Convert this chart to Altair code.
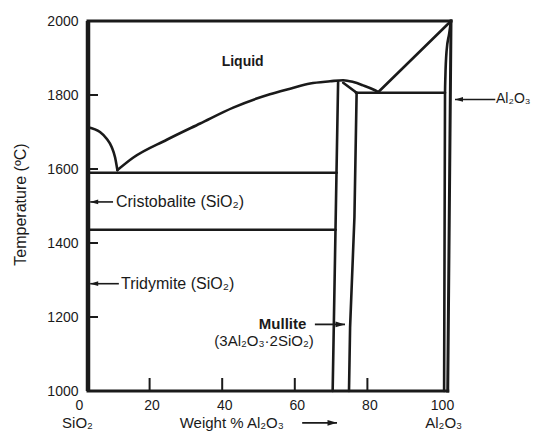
import altair as alt
import pandas as pd

FONT = "Liberation Sans"
INK = "#1a1a1a"

# ---------------- axis values ----------------
x_tick_labels = [0, 20, 40, 60, 80, 100]
y_tick_labels = [1000, 1200, 1400, 1600, 1800, 2000]
x_inner_ticks = [20, 40, 60, 80]
y_inner_ticks = [1200, 1400, 1600, 1800]

# ---------------- phase boundaries (wt% Al2O3, temperature °C) ----------------
# curved boundaries
liq_sio2_x = [0, 3.3, 5.15, 6.55, 7.45, 8.1]
liq_sio2_t = [1713, 1700, 1682, 1659, 1632, 1597]

liq_main_x = [8.1, 12.5, 21.7, 30.9, 40.0, 50.1, 55.7, 61.2, 66.7, 70.3, 73.1, 75.8, 78.6, 80.0]
liq_main_t = [1597, 1631, 1679, 1723, 1766, 1802, 1817, 1831, 1837, 1840, 1835, 1826, 1815, 1808]

alumina_liq_x = [100, 99.5, 98.8, 98.45, 98.35, 98.1]
alumina_liq_t = [2000, 1966, 1921, 1849, 1804, 1000]

# straight boundaries
alumina_liquidus_x = [80.0, 100]
alumina_liquidus_t = [1808, 2000]

cristobalite_line_x = [0, 68.5]
cristobalite_line_t = [1590, 1590]

tridymite_line_x = [0, 68.2]
tridymite_line_t = [1436, 1436]

mullite_left_x = [68.9, 67.4]
mullite_left_t = [1836, 1000]

mullite_top_x = [70.3, 74.0]
mullite_top_t = [1833, 1806]

mullite_right_x = [74.0, 73.4, 72.2, 71.9]
mullite_right_t = [1806, 1470, 1172, 1000]

alumina_eutectic_x = [73.8, 98.35]
alumina_eutectic_t = [1806, 1806]

# ---------------- frame of the diagram ----------------
left_frame_x = [0, 0]
left_frame_t = [1000, 2000]
top_frame_x = [0, 100]
top_frame_t = [2000, 2000]
right_frame_x = [100, 99.1]
right_frame_t = [2000, 1000]
bottom_frame_x = [0, 99.1]
bottom_frame_t = [1000, 1000]

# ---------------- annotations ----------------
left_labels = ["Cristobalite (SiO₂)", "Tridymite (SiO₂)"]
left_labels_x = [7.7, 9.1]
left_labels_t = [1511, 1290]

right_side_labels = ["Al₂O₃"]
right_side_labels_x = [112.4]
right_side_labels_t = [1788]

bold_labels = ["Liquid", "Mullite"]
bold_labels_x = [42.6, 53.6]
bold_labels_t = [1888, 1182]
bold_sizes = [14, 15]

center_labels = ["(3Al₂O₃·2SiO₂)", "SiO₂", "Weight % Al₂O₃", "Al₂O₃"]
center_labels_x = [48.5, -2.9, 39.6, 98.0]
center_labels_t = [1135, 914, 914, 914]

# arrows: start x, end x, temperature
arrow_left_x1 = [0.6, 0.6, 101.1]
arrow_left_x2 = [6.9, 8.5, 112.2]
arrow_left_t = [1511, 1290, 1788]

arrow_right_x1 = [62.5, 59.0]
arrow_right_x2 = [70.8, 68.6]
arrow_right_t = [1180, 914]


def segs(d):
    rows = []
    for name, (xs, ts) in d.items():
        for i, (x, t) in enumerate(zip(xs, ts)):
            rows.append({"seg": name, "i": i, "x": x, "t": t})
    return pd.DataFrame(rows)


curve_df = segs({
    "liq_sio2": (liq_sio2_x, liq_sio2_t),
    "liq_main": (liq_main_x, liq_main_t),
})
alumina_curve_df = segs({"alumina_liq": (alumina_liq_x, alumina_liq_t)})
straight_df = segs({
    "alumina_liquidus": (alumina_liquidus_x, alumina_liquidus_t),
    "cristobalite": (cristobalite_line_x, cristobalite_line_t),
    "tridymite": (tridymite_line_x, tridymite_line_t),
    "mullite_left": (mullite_left_x, mullite_left_t),
    "mullite_top": (mullite_top_x, mullite_top_t),
    "mullite_right": (mullite_right_x, mullite_right_t),
    "alumina_eut": (alumina_eutectic_x, alumina_eutectic_t),
})
frame_df = segs({
    "top": (top_frame_x, top_frame_t),
    "right": (right_frame_x, right_frame_t),
    "bottom": (bottom_frame_x, bottom_frame_t),
})
left_df = segs({"left": (left_frame_x, left_frame_t)})

xscale = alt.Scale(domain=[0, 100], nice=False, zero=False)
yscale = alt.Scale(domain=[1000, 2000], nice=False, zero=False)

x_axis = alt.Axis(values=x_tick_labels, format="d", domain=False, ticks=False, grid=False,
                  labelOffset=-9, labelPadding=7, labelFontSize=14, labelFont=FONT,
                  labelColor=INK, labelFlush=False, labelOverlap=False, title=None)
y_axis = alt.Axis(values=y_tick_labels, format="d", domain=False, ticks=False, grid=False,
                  labelPadding=10, labelFontSize=14, labelFont=FONT, labelColor=INK,
                  labelFlush=False, labelOverlap=False,
                  title="Temperature (ºC)", titleFont=FONT,
                  titleFontSize=16, titleFontWeight="normal", titleColor=INK,
                  titleX=-68, titleY=183, titleAngle=270, titleAlign="center",
                  titleBaseline="middle")

LINE = dict(color=INK, strokeWidth=2.6, strokeJoin="round", strokeCap="round")

curves = alt.Chart(curve_df).mark_line(interpolate="monotone", **LINE).encode(
    x=alt.X("x:Q", scale=xscale, axis=x_axis),
    y=alt.Y("t:Q", scale=yscale, axis=y_axis),
    detail="seg:N", order="i:Q")

alumina_curve = alt.Chart(alumina_curve_df).mark_line(interpolate="monotone", orient="vertical", **LINE).encode(
    x="x:Q", y="t:Q", order="i:Q")

straights = alt.Chart(straight_df).mark_line(**LINE).encode(
    x="x:Q", y="t:Q", detail="seg:N", order="i:Q")

frame = alt.Chart(frame_df).mark_line(color=INK, strokeWidth=3, strokeCap="square").encode(
    x="x:Q", y="t:Q", detail="seg:N", order="i:Q")
left_frame = alt.Chart(left_df).mark_line(color=INK, strokeWidth=4.5).encode(
    x="x:Q", y="t:Q", order="i:Q")

ytick_df = pd.DataFrame({"t": y_inner_ticks})
yticks = alt.Chart(ytick_df).mark_rule(color=INK, strokeWidth=2).encode(
    y="t:Q", x=alt.value(0), x2=alt.value(10))
xtick_df = pd.DataFrame({"x": x_inner_ticks})
xticks = alt.Chart(xtick_df).mark_rule(color=INK, strokeWidth=2, xOffset=-11).encode(
    x="x:Q", y=alt.value(370), y2=alt.value(357))

lt_df = pd.DataFrame({"label": left_labels, "x": left_labels_x, "t": left_labels_t})
left_text = alt.Chart(lt_df).mark_text(font=FONT, fontSize=16, color=INK, align="left", baseline="middle").encode(
    x="x:Q", y="t:Q", text="label:N")

rs_df = pd.DataFrame({"label": right_side_labels, "x": right_side_labels_x, "t": right_side_labels_t})
right_side_text = alt.Chart(rs_df).mark_text(font=FONT, fontSize=14, color=INK, align="left", baseline="middle").encode(
    x="x:Q", y="t:Q", text="label:N")

bold_layers = []
for lab, bx, bt, bs in zip(bold_labels, bold_labels_x, bold_labels_t, bold_sizes):
    bdf = pd.DataFrame({"label": [lab], "x": [bx], "t": [bt]})
    bold_layers.append(alt.Chart(bdf).mark_text(font=FONT, fontSize=bs, fontWeight="bold", color=INK,
                                                align="center", baseline="middle").encode(
        x="x:Q", y="t:Q", text="label:N"))

ct_df = pd.DataFrame({"label": center_labels, "x": center_labels_x, "t": center_labels_t})
center_text = alt.Chart(ct_df).mark_text(font=FONT, fontSize=15, color=INK, align="center", baseline="middle").encode(
    x="x:Q", y="t:Q", text="label:N")

al_df = pd.DataFrame({"x": arrow_left_x1, "x2": arrow_left_x2, "t": arrow_left_t})
ar_df = pd.DataFrame({"x": arrow_right_x1, "x2": arrow_right_x2, "t": arrow_right_t})

arrow_l_lines = alt.Chart(al_df).mark_rule(color=INK, strokeWidth=1.6).encode(x="x:Q", x2="x2:Q", y="t:Q")
arrow_r_lines = alt.Chart(ar_df).mark_rule(color=INK, strokeWidth=1.8).encode(x="x:Q", x2="x2:Q", y="t:Q")

LEFT_HEAD = "M0,0L2,-0.6L2,0.6Z"
RIGHT_HEAD = "M0,0L-2,-0.6L-2,0.6Z"
arrow_l_heads = alt.Chart(al_df).mark_point(shape=LEFT_HEAD, filled=True, size=64, color=INK, opacity=1, strokeWidth=0).encode(
    x="x:Q", y="t:Q")
arrow_r_heads = alt.Chart(ar_df).mark_point(shape=RIGHT_HEAD, filled=True, size=90, color=INK, opacity=1, strokeWidth=0).encode(
    x="x2:Q", y="t:Q")

chart = alt.layer(
    curves, alumina_curve, straights, frame, left_frame, yticks, xticks,
    arrow_l_lines, arrow_r_lines, arrow_l_heads, arrow_r_heads,
    left_text, right_side_text, center_text, *bold_layers
).properties(
    width=363, height=370,
    autosize=alt.AutoSizeParams(type="none"),
    padding={"left": 80, "top": 13, "right": 80, "bottom": 40},
    background="white"
).configure_view(stroke=None)

chart.save("out.html", embed_options={"renderer": "svg", "actions": False})
